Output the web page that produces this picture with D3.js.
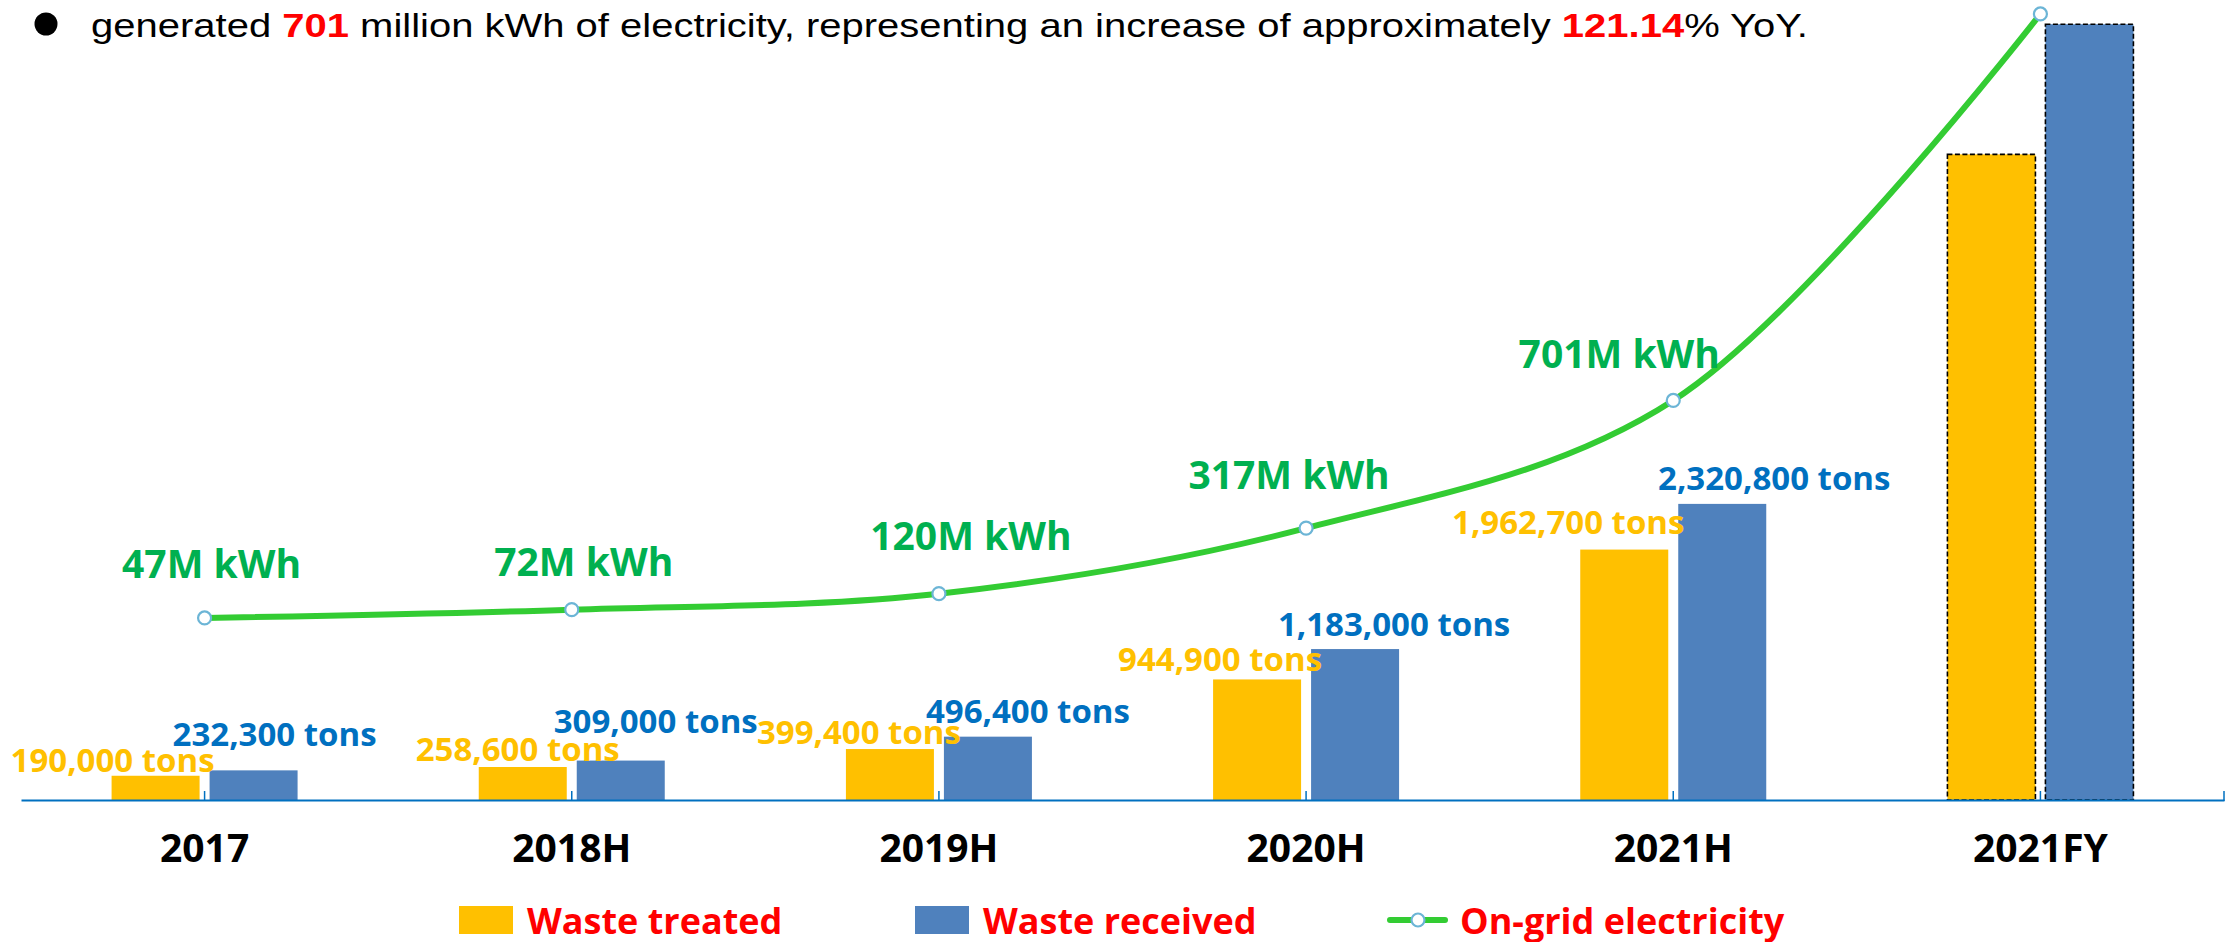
<!DOCTYPE html>
<html>
<head>
<meta charset="utf-8">
<script src="https://cdn.jsdelivr.net/npm/d3@7"></script>
<style>
  body { margin: 0; background: #fff; }
  svg { display: block; }
  text { font-family: "Open Sans", "Noto Sans", sans-serif; font-weight: 700; }
</style>
</head>
<body>
<div id="chart"></div>
<script>
// chart data
var categories = ["2017", "2018H", "2019H", "2020H", "2021H", "2021FY"];
var wasteTreated = [190000, 258600, 399400, 944900, 1962700, 5060000];
var wasteReceived = [232300, 309000, 496400, 1183000, 2320800, 6080000];
var electricity = [47, 72, 120, 317, 701, 1863];
var treatedLabels = ["190,000 tons", "258,600 tons", "399,400 tons", "944,900 tons", "1,962,700 tons", ""];
var receivedLabels = ["232,300 tons", "309,000 tons", "496,400 tons", "1,183,000 tons", "2,320,800 tons", ""];
var elecLabels = ["47M kWh", "72M kWh", "120M kWh", "317M kWh", "701M kWh", ""];
var seriesNames = ["Waste treated", "Waste received", "On-grid electricity"];

// label nudges (layout only) [dx, dy]
var treatedNudge = [[-43, -4], [-5, -6], [-31, -5], [-37, -8], [-56, -16]];
var receivedNudge = [[21, -24], [35, -28], [40, -14], [39, -13], [52, -14]];
var elecNudge = [[7, -40], [12, -34], [32, -44], [-17, -39], [-54, -32]];

var width = 2234, height = 942;
var colTreated = "#ffc000", colReceived = "#4f81bd", colLine = "#33cc33";

var svg = d3.select("#chart").append("svg")
    .attr("width", width)
    .attr("height", height);

// 見出し
var title = svg.append("g");
title.append("circle").attr("cx", 46).attr("cy", 24).attr("r", 11.5).attr("fill", "#000");
var tt = title.append("text")
    .attr("x", 91).attr("y", 37)
    .attr("textLength", 1717).attr("lengthAdjust", "spacingAndGlyphs")
    .style("font-family", "'Liberation Sans', Arial, sans-serif")
    .style("font-weight", 400)
    .style("font-size", "34px")
    .attr("fill", "#000");
tt.append("tspan").text("generated ");
tt.append("tspan").text("701").attr("fill", "#ff0000").style("font-weight", 700);
tt.append("tspan").text(" million kWh of electricity, representing an increase of approximately ");
tt.append("tspan").text("121.14").attr("fill", "#ff0000").style("font-weight", 700);
tt.append("tspan").text("% YoY.");

// scales
var x0 = d3.scaleBand().domain(categories).range([21, 2224]).padding(0);
var x1 = d3.scaleBand().domain(["treated", "received"]).range([-93, 93]).paddingInner(0.102);
var y = d3.scaleLinear().domain([0, 6270000]).range([800, 0]);
var y2 = d3.scaleLinear().domain([0, 1905]).range([633.6, 0]);

function cx(d) { return x0(d) + x0.bandwidth() / 2; }

// bars
var groups = svg.append("g").selectAll("g")
    .data(categories)
    .enter().append("g")
    .attr("transform", function(d) { return "translate(" + cx(d) + ",0)"; });

groups.append("rect")
    .attr("x", x1("treated"))
    .attr("width", x1.bandwidth())
    .attr("y", function(d, i) { return y(wasteTreated[i]); })
    .attr("height", function(d, i) { return y(0) - y(wasteTreated[i]); })
    .attr("fill", colTreated);

groups.append("rect")
    .attr("x", x1("received"))
    .attr("width", x1.bandwidth())
    .attr("y", function(d, i) { return y(wasteReceived[i]); })
    .attr("height", function(d, i) { return y(0) - y(wasteReceived[i]); })
    .attr("fill", colReceived);

// 2021FY は点線の枠
groups.filter(function(d, i) { return i === categories.length - 1; })
    .selectAll("rect")
    .attr("stroke", "#000")
    .attr("stroke-width", 1.6)
    .attr("stroke-dasharray", "5,2.5");

// axis
var axis = svg.append("g")
    .attr("transform", "translate(0," + y(0) + ")")
    .call(d3.axisBottom(x0).tickSizeInner(-9).tickSizeOuter(0));
axis.select(".domain").attr("stroke", "#0070c0").attr("stroke-width", 2.2);
axis.selectAll(".tick line").attr("stroke", "#0070c0").attr("stroke-width", 1.5);
axis.selectAll(".tick text")
    .attr("y", 62).attr("dy", null)
    .attr("fill", "#000")
    .style("font-size", "39px")
    .style("font-family", "'Open Sans', sans-serif")
    .style("font-weight", 700);
axis.append("line")
    .attr("x1", x0.range()[1]).attr("x2", x0.range()[1])
    .attr("y1", 1).attr("y2", -9)
    .attr("stroke", "#0070c0").attr("stroke-width", 1.5);

// bar labels
groups.append("text")
    .text(function(d, i) { return treatedLabels[i]; })
    .attr("x", function(d, i) { return x1("treated") + x1.bandwidth() / 2 + (treatedNudge[i] ? treatedNudge[i][0] : 0); })
    .attr("y", function(d, i) { return y(wasteTreated[i]) + (treatedNudge[i] ? treatedNudge[i][1] : 0); })
    .attr("text-anchor", "middle")
    .attr("fill", colTreated)
    .style("font-size", "33px");

groups.append("text")
    .text(function(d, i) { return receivedLabels[i]; })
    .attr("x", function(d, i) { return x1("received") + x1.bandwidth() / 2 + (receivedNudge[i] ? receivedNudge[i][0] : 0); })
    .attr("y", function(d, i) { return y(wasteReceived[i]) + (receivedNudge[i] ? receivedNudge[i][1] : 0); })
    .attr("text-anchor", "middle")
    .attr("fill", "#0070c0")
    .style("font-size", "33px");

// electricity line
var line = d3.line()
    .x(function(d, i) { return cx(categories[i]); })
    .y(function(d) { return y2(d); })
    .curve(d3.curveCatmullRom.alpha(0.5));

svg.append("path")
    .datum(electricity)
    .attr("d", line)
    .attr("fill", "none")
    .attr("stroke", colLine)
    .attr("stroke-width", 6)
    .attr("stroke-linecap", "round");

svg.append("g").selectAll("circle")
    .data(electricity)
    .enter().append("circle")
    .attr("cx", function(d, i) { return cx(categories[i]); })
    .attr("cy", function(d) { return y2(d); })
    .attr("r", 6.5)
    .attr("fill", "#fff")
    .attr("stroke", "#6cb5d6")
    .attr("stroke-width", 2.2);

svg.append("g").selectAll("text")
    .data(electricity)
    .enter().append("text")
    .text(function(d, i) { return elecLabels[i]; })
    .attr("x", function(d, i) { return cx(categories[i]) + (elecNudge[i] ? elecNudge[i][0] : 0); })
    .attr("y", function(d, i) { return y2(d) + (elecNudge[i] ? elecNudge[i][1] : 0); })
    .attr("text-anchor", "middle")
    .attr("fill", "#00b050")
    .style("font-size", "39px");

// legend
var legendX = [459, 915, 1388];
var legend = svg.append("g").selectAll("g")
    .data(seriesNames)
    .enter().append("g")
    .attr("transform", function(d, i) { return "translate(" + legendX[i] + ",906)"; });

legend.filter(function(d, i) { return i < 2; })
    .append("rect")
    .attr("width", 54).attr("height", 28)
    .attr("fill", function(d, i) { return i === 0 ? colTreated : colReceived; });

var lg = legend.filter(function(d, i) { return i === 2; });
lg.append("line")
    .attr("x1", 2).attr("x2", 57).attr("y1", 14).attr("y2", 14)
    .attr("stroke", colLine).attr("stroke-width", 6).attr("stroke-linecap", "round");
lg.append("circle")
    .attr("cx", 30).attr("cy", 14).attr("r", 6.5)
    .attr("fill", "#fff").attr("stroke", "#6cb5d6").attr("stroke-width", 2.2);

legend.append("text")
    .text(function(d) { return d; })
    .attr("x", function(d, i) { return i === 2 ? 72 : 68; })
    .attr("y", 28)
    .attr("fill", "#ff0000")
    .style("font-size", "36px");
</script>
</body>
</html>
